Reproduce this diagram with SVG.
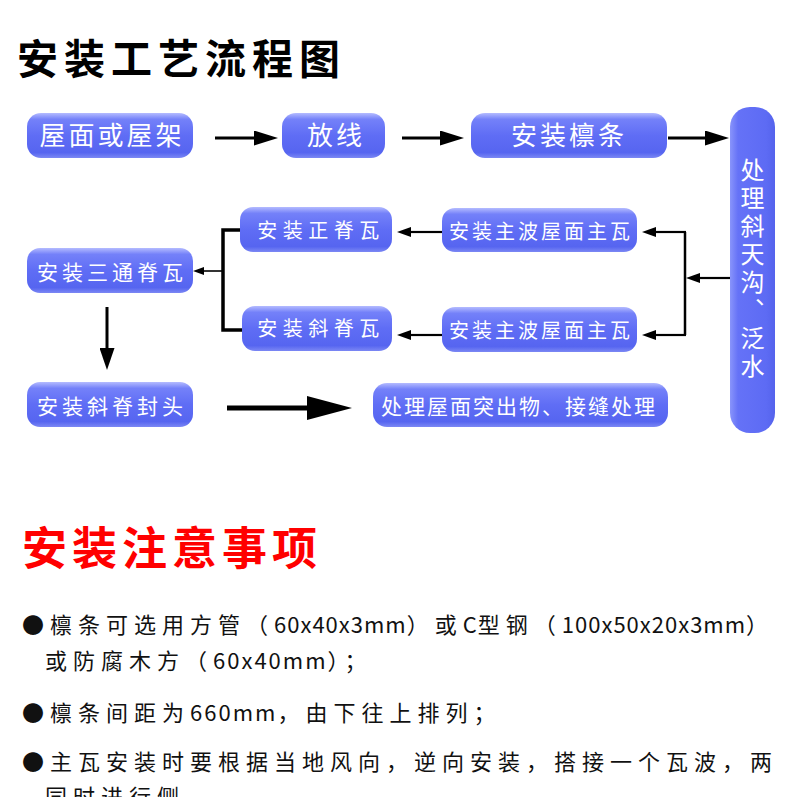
<svg xmlns="http://www.w3.org/2000/svg" width="790" height="797" viewBox="0 0 790 797">
<defs>
<linearGradient id="gBtn" x1="0" y1="0" x2="0" y2="1">
<stop offset="0" stop-color="#b4bbff"/>
<stop offset="0.14" stop-color="#7481f9"/>
<stop offset="0.5" stop-color="#5f6df5"/>
<stop offset="0.88" stop-color="#5665f0"/>
<stop offset="1" stop-color="#7c88f4"/>
</linearGradient>
<linearGradient id="gVert" x1="0" y1="0" x2="1" y2="0">
<stop offset="0" stop-color="#8994fb"/>
<stop offset="0.18" stop-color="#6572f7"/>
<stop offset="0.8" stop-color="#5d6bf4"/>
<stop offset="1" stop-color="#5563ec"/>
</linearGradient>
<marker id="mA" markerUnits="userSpaceOnUse" markerWidth="24" markerHeight="15" refX="0" refY="7.5" orient="auto"><path d="M0,0 L24,7.5 L0,15 Z" fill="#000"/></marker>
<marker id="mB" markerUnits="userSpaceOnUse" markerWidth="14" markerHeight="10" refX="0" refY="5" orient="auto"><path d="M0,0 L14,5 L0,10 Z" fill="#000"/></marker>
<marker id="mC" markerUnits="userSpaceOnUse" markerWidth="11" markerHeight="8" refX="0" refY="4" orient="auto"><path d="M0,0 L11,4 L0,8 Z" fill="#000"/></marker>
<marker id="mD" markerUnits="userSpaceOnUse" markerWidth="22" markerHeight="15" refX="0" refY="7.5" orient="auto"><path d="M0,0 L22,7.5 L0,15 Z" fill="#000"/></marker>
<marker id="mE" markerUnits="userSpaceOnUse" markerWidth="45" markerHeight="24" refX="0" refY="12" orient="auto"><path d="M0,0 L45,12 L0,24 Z" fill="#000"/></marker>
</defs>
<style>
.btn{fill:url(#gBtn);}
.vbtn{fill:url(#gVert);}
.lb{font-family:"Noto Sans CJK SC","Noto Sans",sans-serif;fill:#fff;text-anchor:middle;}
.big{font-size:26px;letter-spacing:3px;}
.mid{font-size:20px;letter-spacing:3px;}
.ln{fill:none;stroke:#000;}
.note{font-family:"Noto Sans CJK SC","Noto Sans",sans-serif;font-size:22px;letter-spacing:6px;fill:#111;}
.lat{letter-spacing:2px;}
.lat1{letter-spacing:1px;}
</style>
<rect width="790" height="797" fill="#fff"/>
<text x="17" y="74" font-family="'Noto Sans CJK SC','Noto Sans',sans-serif" font-size="41" font-weight="700" letter-spacing="6" fill="#000">安装工艺流程图</text>

<g id="connectors">
<path class="ln" d="M215,138 H254" stroke-width="3" marker-end="url(#mA)"/>
<path class="ln" d="M402,138 H440" stroke-width="3" marker-end="url(#mA)"/>
<path class="ln" d="M668,138 H705" stroke-width="3" marker-end="url(#mA)"/>
<path class="ln" d="M730,278 H700" stroke-width="2.2" marker-end="url(#mB)"/>
<path class="ln" d="M685,232 V335" stroke-width="2.5"/>
<path class="ln" d="M686,232 H656" stroke-width="2.2" marker-end="url(#mB)"/>
<path class="ln" d="M686,335 H656" stroke-width="2.2" marker-end="url(#mB)"/>
<path class="ln" d="M442,232 H411" stroke-width="2.2" marker-end="url(#mB)"/>
<path class="ln" d="M442,335 H411" stroke-width="2.2" marker-end="url(#mB)"/>
<path class="ln" d="M241,230 H223 V330 H243" stroke-width="3.5"/>
<path class="ln" d="M223,271 H204" stroke-width="1.6" marker-end="url(#mC)"/>
<path class="ln" d="M107,307 V348" stroke-width="3" marker-end="url(#mD)"/>
<path class="ln" d="M227,408 H307" stroke-width="5" marker-end="url(#mE)"/>
</g>

<g id="n1"><rect class="btn" x="27" y="113" width="166" height="45" rx="14"/><text class="lb big" x="112" y="145">屋面或屋架</text></g>
<g id="n2"><rect class="btn" x="282" y="113" width="103" height="45" rx="14"/><text class="lb big" x="336" y="145">放线</text></g>
<g id="n3"><rect class="btn" x="471" y="113" width="196" height="45" rx="14"/><text class="lb big" x="569" y="145">安装檩条</text></g>
<g id="n4"><rect class="vbtn" x="730" y="107" width="45" height="326" rx="20"/><text x="752.5" y="158" font-family="'Noto Sans CJK SC','Noto Sans',sans-serif" font-size="24" letter-spacing="4" fill="#fff" writing-mode="vertical-rl">处理斜天沟、泛水</text></g>
<g id="n5"><rect class="btn" x="442" y="208" width="195" height="44" rx="13"/><text class="lb mid" x="541" y="238.5">安装主波屋面主瓦</text></g>
<g id="n6"><rect class="btn" x="442" y="307" width="195" height="45" rx="13"/><text class="lb mid" x="541" y="337.5">安装主波屋面主瓦</text></g>
<g id="n7"><rect class="btn" x="373" y="383" width="295" height="44" rx="14"/><text class="lb" x="519" y="413.5" font-size="21" letter-spacing="2">处理屋面突出物、接缝处理</text></g>
<g id="n8"><rect class="btn" x="240" y="207" width="152" height="45" rx="13"/><text class="lb" x="321" y="237.5" font-size="20" letter-spacing="5.5">安装正脊瓦</text></g>
<g id="n9"><rect class="btn" x="242" y="306" width="150" height="45" rx="13"/><text class="lb" x="321" y="335.5" font-size="20" letter-spacing="5.5">安装斜脊瓦</text></g>
<g id="n10"><rect class="btn" x="27" y="248" width="166" height="45" rx="13"/><text class="lb" x="112" y="279.5" font-size="21" letter-spacing="4">安装三通脊瓦</text></g>
<g id="n11"><rect class="btn" x="27" y="382" width="166" height="45" rx="13"/><text class="lb" x="112" y="413.5" font-size="21" letter-spacing="4">安装斜脊封头</text></g>

<text x="22" y="565" font-family="'Noto Sans CJK SC','Noto Sans',sans-serif" font-size="45" font-weight="700" letter-spacing="5" fill="#ff0000">安装注意事项</text>

<text class="note" x="22" y="633">●檩条可选用方管（<tspan class="lat1">60x40x3mm</tspan>）或<tspan class="lat1">C</tspan>型钢（<tspan class="lat1">100x50x20x3mm</tspan><tspan letter-spacing="0">）</tspan></text>
<text class="note" x="45" y="669">或防腐木方（<tspan class="lat">60x40mm</tspan>）；</text>
<text class="note" x="22" y="721">●檩条间距为<tspan class="lat">660mm</tspan>，由下往上排列；</text>
<text class="note" x="22" y="770">●主瓦安装时要根据当地风向，逆向安装，搭接一个瓦波，两</text>
<text class="note" x="45" y="805">同时进行侧</text>
</svg>
